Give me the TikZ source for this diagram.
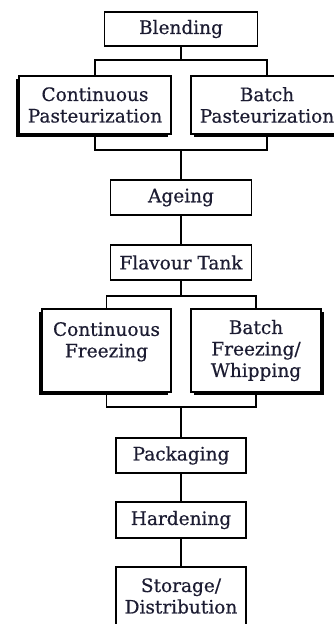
\documentclass[tikz,border=0pt]{standalone}
\usepackage{fontspec}
\setmainfont[FakeBold=0.5]{DejaVu Serif}
\usetikzlibrary{shadows}
\definecolor{txt}{RGB}{28,28,50}
\begin{document}
\begin{tikzpicture}[x=1pt,y=-1pt,
  box/.style={draw, line width=1.6pt, fill=white, inner sep=0pt, align=center,
    font=\fontsize{18.5}{21.5}\selectfont, text=txt},
  shl/.style={drop shadow={shadow xshift=-2.6pt, shadow yshift=-2.6pt, fill=black, opacity=1}},
  shr/.style={drop shadow={shadow xshift=2.6pt, shadow yshift=-2.6pt, fill=black, opacity=1}},
  link/.style={line width=1.7pt}]
\useasboundingbox (0,0) rectangle (334,624);
\clip (0,0) rectangle (334,624);
\node[box, minimum width=153pt, minimum height=34pt] (blend) at (181,29) {Blending};
\node[box, shl, minimum width=152pt, minimum height=58pt] (contp) at (95,105) {Continuous\\Pasteurization};
\node[box, shr, minimum width=152pt, minimum height=58pt] (batchp) at (267,105) {Batch\\Pasteurization};
\node[box, minimum width=141pt, minimum height=35pt] (ageing) at (181,197.5) {Ageing};
\node[box, minimum width=141pt, minimum height=35pt] (flavour) at (181,262.5) {Flavour Tank};
\node[box, shl, minimum width=129pt, minimum height=83pt] (contf) at (106.5,350.5) {Continuous\\Freezing\\~};
\node[box, shr, minimum width=130pt, minimum height=83pt] (batchf) at (256,350.5) {Batch\\Freezing/\\Whipping};
\node[box, minimum width=130pt, minimum height=35pt] (pack) at (181,455.5) {Packaging};
\node[box, minimum width=130pt, minimum height=36pt] (hard) at (181,520) {Hardening};
\node[box, minimum width=130pt, minimum height=58pt] (store) at (181,596) {Storage/\\Distribution};
\coordinate (j1) at (181,60);
\coordinate (j2) at (181,150);
\coordinate (j3) at (181,296);
\coordinate (j4) at (181,407);
\draw[link] (blend.south) -- (j1);
\draw[link] (contp.north) |- (j1) -| (batchp.north);
\draw[link] (contp.south) |- (j2) -| (batchp.south);
\draw[link] (j2) -- (ageing.north);
\draw[link] (ageing) -- (flavour);
\draw[link] (flavour.south) -- (j3);
\draw[link] (contf.north) |- (j3) -| (batchf.north);
\draw[link] (contf.south) |- (j4) -| (batchf.south);
\draw[link] (j4) -- (pack.north);
\draw[link] (pack) -- (hard);
\draw[link] (hard) -- (store);
\end{tikzpicture}
\end{document}
